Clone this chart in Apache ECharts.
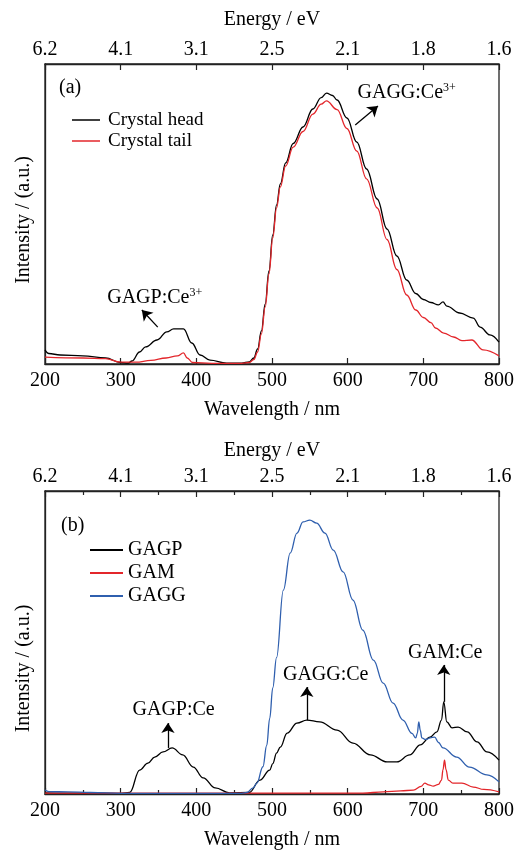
<!DOCTYPE html>
<html lang="en">
<head>
    <meta charset="UTF-8">
    <title>GAGG / GAGP / GAM emission spectra</title>
    <script src="https://cdn.jsdelivr.net/npm/echarts@6/dist/echarts.min.js"></script>
    <style>
        html, body { margin: 0; padding: 0; background: #fff; }
        #chart { width: 520px; height: 852px; }
    </style>
</head>
<body>
<div id="chart"></div>
<script>
    // top axis labels (energy in eV at 200, 300 ... 800 nm)
    var energyLabels = ['6.2', '4.1', '3.1', '2.5', '2.1', '1.8', '1.6'];

    // panel (a)
    var headWl = [200, 205, 220, 250, 280, 300, 310, 315, 325, 333, 348, 361, 370, 383, 394, 405, 418, 440, 460, 470, 476, 481, 486, 491, 496, 501, 506, 511, 518, 528, 541, 554, 565, 572, 580, 586, 599, 612, 625, 639, 652, 665, 678, 690, 700, 710, 720, 726, 731, 748, 766, 775, 788, 800];
    var headI  = [0.047, 0.035, 0.03, 0.027, 0.02, 0.005, 0.003, 0.01, 0.04, 0.057, 0.08, 0.107, 0.117, 0.117, 0.07, 0.03, 0.013, 0.003, 0.003, 0.007, 0.02, 0.05, 0.11, 0.2, 0.31, 0.43, 0.53, 0.6, 0.67, 0.735, 0.79, 0.85, 0.888, 0.903, 0.895, 0.88, 0.82, 0.74, 0.65, 0.55, 0.45, 0.36, 0.28, 0.235, 0.215, 0.205, 0.197, 0.207, 0.193, 0.17, 0.153, 0.123, 0.097, 0.073];
    var tailWl = [200, 250, 280, 300, 320, 340, 360, 375, 383, 388, 395, 420, 460, 470, 476, 481, 486, 491, 496, 501, 506, 511, 518, 528, 541, 554, 565, 572, 586, 599, 612, 625, 639, 652, 665, 678, 690, 700, 710, 716, 727, 740, 751, 764, 779, 800];
    var tailI  = [0.023, 0.02, 0.018, 0.006, 0.006, 0.012, 0.02, 0.027, 0.037, 0.02, 0.005, 0.002, 0.002, 0.005, 0.015, 0.04, 0.1, 0.19, 0.3, 0.42, 0.52, 0.59, 0.66, 0.723, 0.775, 0.833, 0.866, 0.877, 0.848, 0.785, 0.71, 0.617, 0.52, 0.415, 0.315, 0.23, 0.18, 0.155, 0.138, 0.12, 0.103, 0.09, 0.078, 0.08, 0.047, 0.027];

    // panel (b)
    var gagpWl = [200, 250, 300, 312, 325, 336, 345, 356, 368, 382, 396, 409, 425, 444, 470, 484, 497, 501, 506, 511, 520, 533, 546, 563, 586, 607, 630, 652, 665, 682, 696, 709, 718, 724, 727, 731, 738, 746, 758, 771, 784, 800];
    var gagpI  = [0.004, 0.003, 0.002, 0.005, 0.079, 0.102, 0.122, 0.139, 0.152, 0.129, 0.089, 0.053, 0.02, 0.004, 0.005, 0.046, 0.079, 0.1, 0.135, 0.155, 0.201, 0.234, 0.244, 0.238, 0.211, 0.168, 0.129, 0.106, 0.106, 0.129, 0.162, 0.188, 0.205, 0.244, 0.304, 0.238, 0.218, 0.221, 0.205, 0.172, 0.139, 0.112];
    var gamWl = [200, 620, 647, 670, 687, 697, 702, 707, 713, 720, 724, 726, 728, 730, 733, 739, 751, 766, 780, 800];
    var gamI  = [0.003, 0.003, 0.007, 0.01, 0.013, 0.025, 0.036, 0.03, 0.026, 0.032, 0.046, 0.08, 0.112, 0.08, 0.046, 0.036, 0.036, 0.023, 0.015, 0.007];
    var gaggWl = [200, 205, 230, 260, 300, 460, 467, 475, 480, 488, 493, 497, 501, 506, 515, 524, 533, 541, 550, 559, 570, 581, 594, 607, 620, 634, 647, 660, 673, 685, 690, 692, 694, 696, 698, 703, 709, 715, 720, 726, 744, 761, 784, 800];
    var gaggI  = [0.013, 0.008, 0.007, 0.005, 0.002, 0.002, 0.005, 0.02, 0.036, 0.09, 0.16, 0.25, 0.35, 0.45, 0.673, 0.795, 0.861, 0.898, 0.904, 0.894, 0.861, 0.805, 0.733, 0.64, 0.541, 0.442, 0.366, 0.3, 0.244, 0.2, 0.185, 0.2, 0.238, 0.21, 0.185, 0.18, 0.185, 0.188, 0.17, 0.152, 0.122, 0.089, 0.063, 0.04];

    // annotations: [text, sup, textX, textY, arrowFromX, arrowFromY, arrowToX, arrowToY]
    var notesA = [
        ['GAGP:Ce', '3+', 345, 0.22, 349, 0.123, 328, 0.18],
        ['GAGG:Ce', '3+', 678, 0.903, 610, 0.797, 640, 0.86]
    ];
    var notesB = [
        ['GAGP:Ce', '', 370, 0.277, 362.5, 0.152, 362.5, 0.234],
        ['GAGG:Ce', '', 571, 0.393, 546, 0.244, 546, 0.353],
        ['GAM:Ce', '', 729, 0.465, 727, 0.304, 727, 0.426]
    ];

    var FONT = 'Liberation Serif';
    var BLACK = '#000000', RED = '#e3262b', BLUE = '#2f5fae';

    function zip(xs, ys) {
        return xs.map(function (x, i) { return [x, ys[i]]; });
    }

    function noteMarks(notes) {
        return {
            markPoint: {
                silent: true,
                animation: false,
                symbol: 'circle',
                symbolSize: 1,
                itemStyle: { color: 'rgba(0,0,0,0)' },
                label: {
                    show: true,
                    position: 'inside',
                    rich: {
                        m: { fontFamily: FONT, fontSize: 20, color: '#000', lineHeight: 22 },
                        s: { fontFamily: FONT, fontSize: 12, color: '#000', lineHeight: 12, verticalAlign: 'top' }
                    }
                },
                data: notes.map(function (n) {
                    return {
                        coord: [n[2], n[3]],
                        label: { formatter: n[1] ? '{m|' + n[0] + '}{s|' + n[1] + '}' : '{m|' + n[0] + '}' }
                    };
                })
            },
            markLine: {
                silent: true,
                animation: false,
                symbol: ['none', 'arrow'],
                symbolSize: 10,
                label: { show: false },
                itemStyle: { color: '#000' },
                lineStyle: { color: '#000', width: 1.3, type: 'solid' },
                data: notes.map(function (n) {
                    return [{ coord: [n[4], n[5]] }, { coord: [n[6], n[7]] }];
                })
            }
        };
    }

    function bottomAxis(gridIndex, minor) {
        return {
            gridIndex: gridIndex, type: 'value', position: 'bottom',
            min: 200, max: 800, interval: 100,
            name: 'Wavelength / nm', nameLocation: 'middle', nameGap: 36,
            nameTextStyle: { fontFamily: FONT, fontSize: 20, color: '#000' },
            axisLine: { show: true, onZero: false, lineStyle: { color: '#222', width: 1.3 } },
            axisTick: { show: true, inside: true, length: 6, lineStyle: { color: '#222', width: 1.2 } },
            minorTick: { show: minor, splitNumber: 2, length: 4, lineStyle: { color: '#222', width: 1.2 } },
            axisLabel: { margin: 7, fontFamily: FONT, fontSize: 20, color: '#000' },
            splitLine: { show: false }
        };
    }

    function topAxis(gridIndex, minor, labelMargin, nameGap) {
        return {
            gridIndex: gridIndex, type: 'value', position: 'top',
            min: 200, max: 800, interval: 100,
            name: 'Energy / eV', nameLocation: 'middle', nameGap: nameGap,
            nameTextStyle: { fontFamily: FONT, fontSize: 20, color: '#000' },
            axisLine: { show: true, onZero: false, lineStyle: { color: '#222', width: 1.3 } },
            axisTick: { show: true, inside: true, length: 6, lineStyle: { color: '#222', width: 1.2 } },
            minorTick: { show: minor, splitNumber: 2, length: 4, lineStyle: { color: '#222', width: 1.2 } },
            axisLabel: {
                margin: labelMargin, fontFamily: FONT, fontSize: 20, color: '#000',
                formatter: function (v) { return energyLabels[Math.round((v - 200) / 100)]; }
            },
            splitLine: { show: false }
        };
    }

    function leftAxis(gridIndex, shift) {
        return {
            gridIndex: gridIndex, type: 'value', min: 0, max: 1,
            name: 'Intensity / (a.u.)', nameLocation: 'middle', nameGap: 11,
            nameTextStyle: { fontFamily: FONT, fontSize: 20, color: '#000', padding: [0, shift, 0, 0] },
            axisLine: { show: true, lineStyle: { color: '#222', width: 1.3 } },
            axisTick: { show: false },
            axisLabel: { show: false },
            splitLine: { show: false }
        };
    }

    function line(name, color, xi, yi, data, extra) {
        var s = {
            name: name, type: 'line', xAxisIndex: xi, yAxisIndex: yi,
            data: data, showSymbol: false, symbol: 'none',
            smooth: 0.4, smoothMonotone: 'x',
            lineStyle: { color: color, width: 1.3 }, itemStyle: { color: color },
            animation: false, z: 3
        };
        if (extra) Object.assign(s, extra);
        return s;
    }

    var option = {
        backgroundColor: '#fff',
        title: [
            { text: '(a)', left: 54, top: 73, textStyle: { fontFamily: FONT, fontSize: 20, fontWeight: 'normal', color: '#000' } },
            { text: '(b)', left: 56, top: 511, textStyle: { fontFamily: FONT, fontSize: 20, fontWeight: 'normal', color: '#000' } }
        ],
        legend: [
            {
                data: ['Crystal head', 'Crystal tail'], orient: 'vertical', padding: 0,
                left: 72, top: 110, icon: 'rect', itemWidth: 28, itemHeight: 1.5, itemGap: 1,
                textStyle: { fontFamily: FONT, fontSize: 19, color: '#000', lineHeight: 20, padding: [0, 0, 0, 3] }
            },
            {
                data: ['GAGP', 'GAM', 'GAGG'], orient: 'vertical', padding: 0,
                left: 90, top: 539, icon: 'rect', itemWidth: 33, itemHeight: 2, itemGap: 1,
                textStyle: { fontFamily: FONT, fontSize: 20, color: '#000', lineHeight: 22, padding: [0, 0, 0, 0] }
            }
        ],
        grid: [
            { left: 45, right: 21, top: 64, height: 300, show: true, borderColor: '#222', borderWidth: 1.3, backgroundColor: 'transparent' },
            { left: 45, right: 21, top: 491, height: 303, show: true, borderColor: '#222', borderWidth: 1.3, backgroundColor: 'transparent' }
        ],
        xAxis: [
            bottomAxis(0, false),
            topAxis(0, false, 4, 34),
            bottomAxis(1, true),
            topAxis(1, true, 4, 30)
        ],
        yAxis: [
            leftAxis(0, 12),
            leftAxis(1, 52)
        ],
        series: [
            line('Crystal head', BLACK, 0, 0, zip(headWl, headI), noteMarks(notesA)),
            line('Crystal tail', RED, 0, 0, zip(tailWl, tailI)),
            line('GAGP', BLACK, 2, 1, zip(gagpWl, gagpI), noteMarks(notesB)),
            line('GAM', RED, 2, 1, zip(gamWl, gamI)),
            line('GAGG', BLUE, 2, 1, zip(gaggWl, gaggI))
        ]
    };

    var chart = echarts.init(document.getElementById('chart'));
    chart.setOption(option);
</script>
</body>
</html>
